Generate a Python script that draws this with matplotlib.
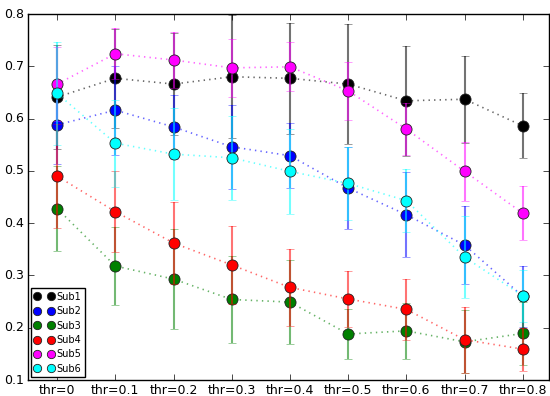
import matplotlib
matplotlib.use('Agg')
import matplotlib.pyplot as plt
import numpy as np

plt.style.use('classic')

labels = ['thr=0', 'thr=0.1', 'thr=0.2', 'thr=0.3', 'thr=0.4',
          'thr=0.5', 'thr=0.6', 'thr=0.7', 'thr=0.8']
names = ['Sub1', 'Sub2', 'Sub3', 'Sub4', 'Sub5', 'Sub6']
colors = ['black', 'blue', 'green', 'red', 'magenta', 'cyan']

sub1 = [0.641, 0.677, 0.666, 0.680, 0.677, 0.666, 0.634, 0.637, 0.586]
sub1_err = [0.100, 0.095, 0.097, 0.118, 0.106, 0.115, 0.105, 0.083, 0.062]
sub2 = [0.588, 0.616, 0.584, 0.546, 0.529, 0.467, 0.416, 0.358, 0.260]
sub2_err = [0.075, 0.085, 0.062, 0.080, 0.062, 0.078, 0.081, 0.074, 0.058]
sub3 = [0.428, 0.318, 0.293, 0.254, 0.249, 0.188, 0.194, 0.173, 0.189]
sub3_err = [0.081, 0.074, 0.095, 0.083, 0.081, 0.048, 0.054, 0.060, 0.060]
sub4 = [0.490, 0.422, 0.362, 0.320, 0.277, 0.255, 0.235, 0.177, 0.159]
sub4_err = [0.100, 0.078, 0.078, 0.074, 0.073, 0.054, 0.058, 0.063, 0.041]
sub5 = [0.666, 0.724, 0.712, 0.697, 0.699, 0.653, 0.580, 0.499, 0.419]
sub5_err = [0.070, 0.049, 0.053, 0.055, 0.047, 0.055, 0.050, 0.056, 0.052]
sub6 = [0.648, 0.553, 0.532, 0.525, 0.499, 0.476, 0.443, 0.335, 0.261]
sub6_err = [0.099, 0.083, 0.088, 0.080, 0.081, 0.070, 0.060, 0.079, 0.050]

means = [sub1, sub2, sub3, sub4, sub5, sub6]
errs = [sub1_err, sub2_err, sub3_err, sub4_err, sub5_err, sub6_err]

fig = plt.figure(figsize=(5.5, 3.96), dpi=100)
ax = fig.add_subplot(111)
fig.subplots_adjust(left=28/550., right=549/550., top=1-14/396., bottom=1-380/396.)

x = np.arange(len(labels))
for m, e, c, n in zip(means, errs, colors, names):
    ax.errorbar(x, m, yerr=e, fmt='none', ecolor=c, elinewidth=1.5,
                capsize=3, alpha=0.55)
    ax.plot(x, m, ':', color=c, alpha=0.6, lw=1.2)
    ax.plot(x, m, 'o', color=c, markersize=8, markeredgecolor='#222222',
            markeredgewidth=0.6, label=n)

ax.set_xlim(-0.5, 8.45)
ax.set_ylim(0.1, 0.8)
ax.set_xticks(x)
ax.set_xticklabels(labels)
ax.tick_params(axis='x', labelsize=9, pad=3)
ax.tick_params(axis='y', labelsize=9, pad=3)
ax.legend(loc='lower left', fontsize=7, numpoints=2, markerscale=0.75,
          handlelength=2.0, handletextpad=0.3, borderpad=0.35,
          labelspacing=0.45, borderaxespad=0.3)

fig.savefig('out.png', dpi=100)
